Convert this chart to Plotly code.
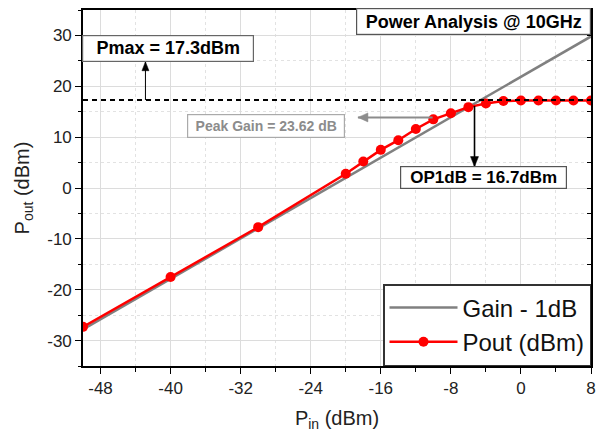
import plotly.graph_objects as go

# ---------------- data ----------------
pin_dbm = [-50, -40, -30, -20, -18, -16, -14, -12, -10, -8, -6, -4, -2, 0, 2, 4, 6, 8]
pout_dbm = [-27.3, -17.5, -7.7, 2.8, 5.2, 7.5, 9.4, 11.6, 13.5, 14.7, 15.9, 16.6, 17.1,
            17.2, 17.2, 17.2, 17.2, 17.2]
gain_line_x = [-50, 8]
gain_line_y = [-27.8, 29.8]
pmax_dbm = 17.3
op1db_pin = -5.3
op1db_value = 16.7
peak_gain_db = 23.62

x_ticks = [-48, -40, -32, -24, -16, -8, 0, 8]
y_ticks = [-30, -20, -10, 0, 10, 20, 30]
x_range = [-50, 8]
y_range = [-35, 35]

# ---------------- layout helpers ----------------
W, H = 604, 434
ML, MR, MT, MB = 83, 11, 8, 68
PW, PH = W - ML - MR, H - MT - MB


def px2x(px):
    return x_range[0] + (px - ML) / PW * (x_range[1] - x_range[0])


def px2y(py):
    return y_range[1] - (py - MT) / PH * (y_range[1] - y_range[0])


FONT = "Liberation Sans, Arial, sans-serif"

fig = go.Figure()
fig.add_trace(go.Scatter(
    x=gain_line_x, y=gain_line_y, mode="lines", name="Gain - 1dB",
    line=dict(color="#808080", width=2.5)))
fig.add_trace(go.Scatter(
    x=pin_dbm, y=pout_dbm, mode="lines+markers", name="Pout (dBm)",
    line=dict(color="#FF0000", width=2.5),
    marker=dict(color="#FF0000", size=10, symbol="circle")))
# helper trace for the right-hand inside ticks
fig.add_trace(go.Scatter(x=[], y=[], yaxis="y2", showlegend=False, hoverinfo="skip"))

# Pmax dashed line
fig.add_shape(type="line", xref="paper", x0=0, x1=1, yref="y", y0=pmax_dbm, y1=pmax_dbm,
              line=dict(color="black", width=2, dash="5px,4px"))


def arrow(x0, y0, x1, y1, color, width, head_dir, hl=9, hw=4):
    """Shaft from (x0,y0) to tip (x1,y1) in data coords; pixel-sized head at the tip."""
    fig.add_shape(type="line", xref="x", yref="y", x0=x0, y0=y0, x1=x1, y1=y1,
                  line=dict(color=color, width=width))
    if head_dir == "up":
        path = f"M 0 0 L {-hw} {-hl} L {hw} {-hl} Z"
    elif head_dir == "down":
        path = f"M 0 0 L {-hw} {hl} L {hw} {hl} Z"
    else:  # left
        path = f"M 0 0 L {hl} {hw} L {hl} {-hw} Z"
    fig.add_shape(type="path", xref="x", yref="y", xsizemode="pixel", ysizemode="pixel",
                  xanchor=x1, yanchor=y1, path=path, fillcolor=color,
                  line=dict(color=color, width=0.5))


# Pmax arrow (up)
arrow(px2x(145.7), pmax_dbm, px2x(145.7), px2y(60), "black", 1, "up", hl=9, hw=3.5)
# Peak gain arrow (left)
arrow(px2x(434), px2y(116), px2x(359), px2y(116), "#8c8c8c", 2, "left", hl=10, hw=4.5)
# OP1dB arrow (down)
arrow(op1db_pin, px2y(104.5), op1db_pin, px2y(165.5), "black", 1.6, "down", hl=10, hw=4)

annos = []
# Title box
annos.append(dict(x=px2x(474.7), y=px2y(20), xref="x", yref="y",
                  text="<b>Power Analysis @ 10GHz</b>", showarrow=False,
                  font=dict(family=FONT, size=18, color="black"),
                  width=233, height=25, borderpad=0, bordercolor="#555555", borderwidth=1.2,
                  bgcolor="white", align="center"))
# Pmax box
annos.append(dict(x=px2x(168.5), y=px2y(46.3), xref="x", yref="y",
                  text="<b>Pmax = %.1fdBm</b>" % pmax_dbm, showarrow=False,
                  font=dict(family=FONT, size=18, color="black"),
                  width=170, height=24.5, borderpad=0, bordercolor="#666666", borderwidth=1.2,
                  bgcolor="white"))
# Peak gain box
annos.append(dict(x=px2x(267), y=px2y(124.7), xref="x", yref="y",
                  text="<b>Peak Gain = %.2f dB</b>" % peak_gain_db, showarrow=False,
                  font=dict(family=FONT, size=14, color="#8c8c8c"),
                  width=156, height=21.5, borderpad=0, bordercolor="#aaaaaa", borderwidth=1.2,
                  bgcolor="white"))
# OP1dB box
annos.append(dict(x=px2x(485), y=px2y(176.8), xref="x", yref="y",
                  text="<b>OP1dB = %.1fdBm</b>" % op1db_value, showarrow=False,
                  font=dict(family=FONT, size=17, color="black"),
                  width=165, height=20.5, borderpad=0, bordercolor="#555555", borderwidth=1.2,
                  bgcolor="white"))

fig.update_layout(
    width=W, height=H,
    margin=dict(l=ML, r=MR, t=MT, b=MB, pad=0),
    paper_bgcolor="white", plot_bgcolor="white",
    font=dict(family=FONT, color="#222222"),
    annotations=annos,
    showlegend=True,
    legend=dict(x=1, y=0, xanchor="right", yanchor="bottom", xref="paper", yref="paper",
                bgcolor="white", bordercolor="#333333", borderwidth=1.5,
                font=dict(family=FONT, size=24, color="#111111"),
                itemwidth=68, tracegroupgap=0),
    xaxis=dict(
        range=x_range, tickmode="array", tickvals=x_ticks,
        ticktext=[str(v) for v in x_ticks],
        ticks="outside", ticklen=6, tickwidth=1.3, tickcolor="black",
        showline=True, linecolor="black", linewidth=1.6, mirror=True,
        showgrid=True, gridcolor="#dcdcdc", gridwidth=1, zeroline=False,
        tickfont=dict(family=FONT, size=17, color="#222222"),
        minor=dict(dtick=8, tick0=-44, ticks="outside", ticklen=4, tickcolor="black",
                   showgrid=True, gridcolor="#e2e2e2", griddash="dot", gridwidth=1),
        title=dict(text="P<sub>in</sub> (dBm)", font=dict(family=FONT, size=20, color="#222222"),
                   standoff=14),
    ),
    yaxis=dict(
        range=y_range, tickmode="array", tickvals=y_ticks,
        ticktext=[str(v) for v in y_ticks],
        ticks="outside", ticklen=6, tickwidth=1.3, tickcolor="black",
        showline=True, linecolor="black", linewidth=1.6, mirror=True,
        showgrid=True, gridcolor="#dcdcdc", gridwidth=1, zeroline=False,
        tickfont=dict(family=FONT, size=17, color="#222222"),
        minor=dict(dtick=10, tick0=-25, ticks="outside", ticklen=3, tickcolor="black",
                   showgrid=True, gridcolor="#e2e2e2", griddash="dot", gridwidth=1),
        title=dict(text="P<sub>out</sub> (dBm)", font=dict(family=FONT, size=20, color="#222222"),
                   standoff=12),
    ),
    yaxis2=dict(
        range=y_range, overlaying="y", side="right", anchor="x",
        tickmode="linear", tick0=-30, dtick=5, ticks="inside", ticklen=4, tickwidth=1.3,
        tickcolor="black", showticklabels=False, showgrid=False, zeroline=False,
        showline=False,
    ),
)

fig.write_html("out.html")
